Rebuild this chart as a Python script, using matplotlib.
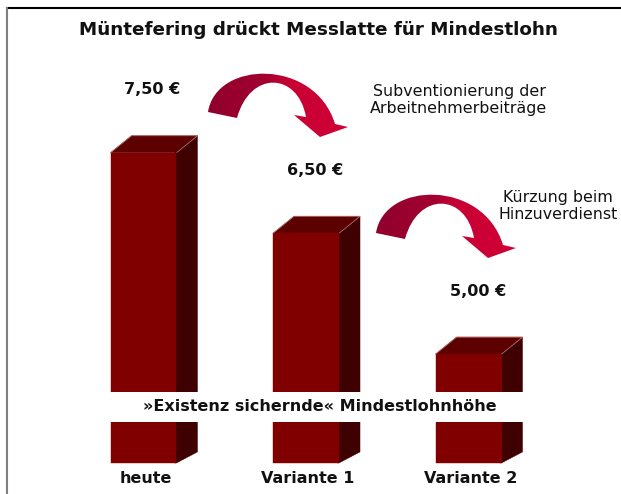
import numpy as np
import matplotlib
matplotlib.use("Agg")
import matplotlib.pyplot as plt
from matplotlib.patches import Polygon, PathPatch
from matplotlib.path import Path
from matplotlib.lines import Line2D
from matplotlib.colors import LinearSegmentedColormap

# ---------------- data ----------------
categories = ["heute", "Variante 1", "Variante 2"]
values = [7.50, 6.50, 5.00]
value_labels = ["7,50 €", "6,50 €", "5,00 €"]
title = "Müntefering drückt Messlatte für Mindestlohn"
arrow_notes = ["Subventionierung der\nArbeitnehmerbeiträge", "Kürzung beim\nHinzuverdienst"]
break_label = "»Existenz sichernde« Mindestlohnhöhe"

# ---------------- layout ----------------
W, H = 621, 494
plt.rcParams['font.family'] = ['DejaVu Sans']
fig = plt.figure(figsize=(W / 100, H / 100), dpi=100)
fig.patch.set_facecolor('white')

ax = fig.add_axes([0, 0, 1, 1])
ax.set_xlim(-0.883, 2.938)
ax.set_ylim(3.263, 9.396)
ax.axis('off')

floor = 3.648
bar_w = 0.406
dx = 21 / 162.5
dy = 17 / 80.56
brk_lo, brk_hi = 4.158, 4.530

front_c, top_c, side_c = '#800000', '#5c0000', '#3e0000'
txt_c = '#111111'

x = np.arange(len(categories))
vals = np.array(values)
ax.bar(x, vals - floor, bottom=floor, width=bar_w, color=front_c,
       edgecolor=front_c, linewidth=0.3, zorder=2)
for xi, v, lab in zip(x, vals, value_labels):
    l, r = xi - bar_w / 2, xi + bar_w / 2
    ax.add_patch(Polygon([(l, v), (r, v), (r + dx, v + dy), (l + dx, v + dy)],
                         closed=True, facecolor=top_c, edgecolor=top_c, lw=0.3, zorder=1.9))
    ax.add_patch(Polygon([(r - 0.01, floor), (r - 0.01, v), (r + dx, v + dy),
                          (r + dx, floor + dy * 0.65), (r, floor)],
                         closed=True, facecolor=side_c, edgecolor=side_c, lw=0.3, zorder=1.9))
    ax.plot([l, l + dx, r + dx, r], [v, v + dy, v + dy, v], color='#b87070',
            lw=0.6, zorder=3, solid_capstyle='butt')
    ax.annotate(lab, xy=(xi + dx / 2, v + dy), xytext=(-1, 33), textcoords='offset points',
                ha='center', va='center', fontsize=11.5, fontweight='bold', color=txt_c)

for xi, cat in zip(x, categories):
    ax.annotate(cat, xy=(xi + dx * 0.1, floor), xytext=(0, -11), textcoords='offset points',
                ha='center', va='center', fontsize=11.5, fontweight='bold', color=txt_c)

# break band
ax.axhspan(brk_lo, brk_hi, color='white', zorder=4, linewidth=0)
ax.text(1.086, (brk_lo + brk_hi) / 2, break_label, ha='center', va='center',
        fontsize=11.5, fontweight='bold', color=txt_c, zorder=5)

# ---------------- overlay (pixel space) ----------------
ov = fig.add_axes([0, 0, 1, 1], zorder=5)
ov.set_facecolor('none')
ov.axis('off')

ov.text(318, 30, title, ha='center', va='center', fontsize=13.2, fontweight='bold',
        color=txt_c)


def arrow(ox, oy):
    P = [(208, 112), (216, 60), (315, 58), (335, 124)]
    head = [(348, 127), (320, 137), (294, 115), (306, 117)]
    Q = [(298, 72), (250, 70), (237, 118)]
    verts = P + head + Q + [(208, 112)]
    codes = ([Path.MOVETO] + [Path.CURVE4] * 3 + [Path.LINETO] * 4 +
             [Path.CURVE4] * 3 + [Path.CLOSEPOLY])
    verts = [(vx + ox, vy + oy) for vx, vy in verts]
    path = Path(verts, codes)
    patch = PathPatch(path, facecolor='none', edgecolor='none', transform=ov.transData)
    ov.add_patch(patch)
    cmap = LinearSegmentedColormap.from_list(
        'arr', [(0, '#8f002c'), (0.42, '#a20030'), (0.58, '#c80034'), (1, '#d00036')])
    grad = np.linspace(0, 1, 256).reshape(1, -1)
    im = ov.imshow(grad, cmap=cmap, extent=[ox + 205, ox + 350, oy + 140, oy + 55],
                   aspect='auto', interpolation='bilinear', zorder=6)
    im.set_clip_path(patch)


arrow(0, 0)
arrow(168, 121)
ov.set_xlim(0, W)
ov.set_ylim(H, 0)

ov.text(459, 100, arrow_notes[0], ha='center', va='center', fontsize=11.4,
        color=txt_c, linespacing=1.2, multialignment='center')
ov.text(558, 206, arrow_notes[1], ha='center', va='center', fontsize=11.4,
        color=txt_c, linespacing=1.2, multialignment='center')

# frame
fig.add_artist(Line2D([7 / W, 1], [1 - 8 / H] * 2, transform=fig.transFigure,
                      color='black', lw=1.5))
fig.add_artist(Line2D([7 / W] * 2, [0, 1 - 8 / H], transform=fig.transFigure,
                      color='#808080', lw=1.5))

fig.savefig('out.png', dpi=100, facecolor='white')
